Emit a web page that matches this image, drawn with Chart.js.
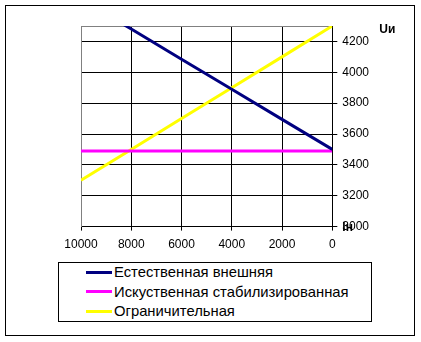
<!DOCTYPE html>
<html>
<head>
<meta charset="utf-8">
<script src="https://cdn.jsdelivr.net/npm/chart.js@4/dist/chart.umd.min.js"></script>
<style>
    html, body { margin: 0; padding: 0; background: #fff; }
    #cadre {
        position: absolute; left: 5px; top: 5px; width: 408px; height: 329px;
        border: 1px solid #000; background: #fff;
    }
    #zone { position: absolute; left: 0; top: 0; width: 421px; height: 259px; }
    #legende {
        position: absolute; left: 58px; top: 262px; width: 312px; height: 58px;
        border: 1px solid #000; background: #fff;
        font-family: "Liberation Sans", Arial, sans-serif; font-size: 14.8px; color: #000;
    }
    .item { position: absolute; left: 27px; height: 17px; line-height: 17px; white-space: nowrap; }
    .trait { display: inline-block; width: 26px; height: 3px; vertical-align: middle; margin-right: 2px; position: relative; top: -1px; }
</style>
</head>
<body>
<div id="cadre"></div>
<div id="zone"><canvas id="graphique" width="421" height="259"></canvas></div>
<div id="legende"></div>
<script>
// courant (axe horizontal, inversé)
const courants = [0, 2000, 4000, 6000, 8000, 10000];

// tension des trois caractéristiques
const naturelle = [3500, 3695, 3890, 4085, 4280, 4475];
const stabilisee = [3490, 3490, 3490, 3490, 3490, 3490];
const limitation = [4300, 4100, 3900, 3700, 3500, 3300];

const noms = ['Естественная внешняя', 'Искуственная стабилизированная', 'Ограничительная'];
const couleurs = ['#000080', '#FF00FF', '#FFFF00'];

const police = '"Liberation Sans", Arial, sans-serif';

function points(valeurs) {
    return courants.map((x, i) => ({x: x, y: valeurs[i]}));
}

/**
 * Cadre gris de la zone de tracé et libellés des axes
 */
const cadreEtTitres = {
    id: 'cadreEtTitres',
    beforeDatasetsDraw(chart) {
        const a = chart.chartArea;
        const ctx = chart.ctx;
        ctx.save();
        ctx.strokeStyle = '#808080';
        ctx.lineWidth = 1;
        ctx.beginPath();
        ctx.moveTo(Math.round(a.left) + 0.5, Math.round(a.bottom));
        ctx.lineTo(Math.round(a.left) + 0.5, Math.round(a.top) + 0.5);
        ctx.lineTo(Math.round(a.right), Math.round(a.top) + 0.5);
        ctx.stroke();
        ctx.restore();
    },
    afterDraw(chart) {
        const a = chart.chartArea;
        const ctx = chart.ctx;
        ctx.save();
        ctx.fillStyle = '#000';
        ctx.font = 'bold 12px ' + police;
        ctx.textBaseline = 'middle';
        ctx.fillText('Uи', a.right + 47, a.top + 4);
        ctx.fillText('Iн', a.right + 10, a.bottom + 1);
        ctx.restore();
    }
};

const ctx = document.getElementById('graphique').getContext('2d');
const graphique = new Chart(ctx, {
    type: 'line',
    data: {
        datasets: [
            {label: noms[0], data: points(naturelle), borderColor: couleurs[0], borderWidth: 3},
            {label: noms[1], data: points(stabilisee), borderColor: couleurs[1], borderWidth: 3},
            {label: noms[2], data: points(limitation), borderColor: couleurs[2], borderWidth: 3}
        ]
    },
    options: {
        responsive: false,
        animation: false,
        layout: {padding: {left: 81, top: 26, right: 47, bottom: 0}},
        elements: {point: {radius: 0}, line: {tension: 0, fill: false}},
        scales: {
            x: {
                type: 'linear',
                reverse: true,
                min: 0,
                max: 10000,
                ticks: {
                    stepSize: 2000,
                    color: '#000',
                    font: {family: police, size: 12},
                    padding: 7,
                    maxRotation: 0,
                    callback: (v) => String(v)
                },
                grid: {
                    color: (c) => c.tick && c.tick.value === 10000 ? '#808080' : '#000',
                    tickColor: '#000',
                    tickLength: 4
                },
                border: {color: '#000'}
            },
            y: {
                position: 'right',
                min: 3000,
                max: 4300,
                afterBuildTicks: (axis) => {
                    axis.ticks = axis.ticks.filter(t => t.value <= 4200);
                },
                ticks: {
                    stepSize: 200,
                    color: '#000',
                    font: {family: police, size: 12},
                    padding: 5,
                    callback: (v) => String(v)
                },
                grid: {color: '#000', tickColor: '#000', tickLength: 5},
                border: {color: '#000'}
            }
        },
        plugins: {
            legend: {display: false},
            tooltip: {enabled: false}
        }
    },
    plugins: [cadreEtTitres]
});

// légende encadrée sous le graphique
const legende = document.getElementById('legende');
graphique.data.datasets.forEach((d, i) => {
    const item = document.createElement('div');
    item.className = 'item';
    item.style.top = (1 + i * 19.5) + 'px';
    item.innerHTML = '<span class="trait" style="background:' + d.borderColor + '"></span>' + d.label;
    legende.appendChild(item);
});
</script>
</body>
</html>
